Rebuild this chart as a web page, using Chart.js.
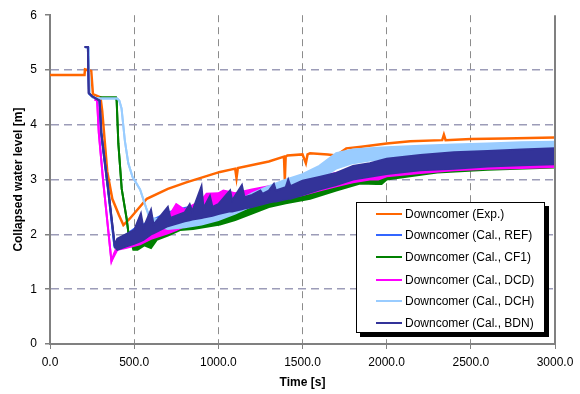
<!DOCTYPE html>
<html lang="en">
<head>
  <meta charset="UTF-8" />
  <title>Downcomer collapsed water level</title>
  <script src="https://cdn.jsdelivr.net/npm/chart.js"></script>
  <style>
    html, body { margin:0; padding:0; background:#fff; }
    body { font-family: Arial, 'Liberation Sans', sans-serif; }
    .wrap { position: relative; width: 580px; height: 394px; }
    #levelChart { display:block; }
    .legend-box {
      position: absolute;
      left: 356px; top: 202px;
      width: 187px; height: 129px;
      background: #fff;
      border: 1px solid #000;
      box-shadow: 4px 4px 0 #000;
      font-size: 12px;
      color: #000;
    }
    .legend-item { position: absolute; left: 0; height: 16px; line-height: 16px; white-space: nowrap; }
    .legend-item .swatch { position: absolute; left: 19px; top: 7px; width: 26px; height: 2px; }
    .legend-item .label { position: absolute; left: 48px; top: 0; }
  </style>
</head>
<body>
  <div class="wrap">
    <canvas id="levelChart" width="580" height="394"></canvas>
    <div id="legend" class="legend-box"></div>
  </div>

  <script>
    // series names (legend order)
    const seriesNames = [
      'Downcomer (Exp.)',
      'Downcomer (Cal., REF)',
      'Downcomer (Cal., CF1)',
      'Downcomer (Cal., DCD)',
      'Downcomer (Cal., DCH)',
      'Downcomer (Cal., BDN)'
    ];
    const seriesColors = ['#ff6600', '#3366ff', '#008000', '#ff00ff', '#99ccff', '#333399'];

    const xTicks = [0, 500, 1000, 1500, 2000, 2500, 3000];
    const yTicks = [0, 1, 2, 3, 4, 5, 6];

    // experiment (single noisy trace)
    const expT = [0, 205, 208, 245, 255, 300, 310, 340, 370, 410, 436, 475, 575, 700, 810, 1010, 1100, 1108, 1116, 1300, 1390, 1395, 1400, 1410, 1500, 1520, 1530, 1545, 1650, 1700, 1760, 1850, 2000, 2140, 2330, 2340, 2350, 2500, 2700, 3000];
    const expV = [4.91, 4.91, 5.01, 4.98, 4.56, 4.50, 4.26, 3.15, 2.65, 2.35, 2.17, 2.29, 2.65, 2.83, 2.95, 3.14, 3.20, 3.03, 3.21, 3.33, 3.42, 3.00, 3.42, 3.44, 3.46, 3.30, 3.46, 3.48, 3.46, 3.44, 3.57, 3.60, 3.66, 3.70, 3.72, 3.82, 3.72, 3.74, 3.75, 3.77];

    // calculations: lower / upper edge of the noisy trace
    const refT  = [210, 227, 232, 252, 293, 303, 343, 382, 400, 500, 600, 700, 800, 900, 1000, 1100, 1200, 1300, 1400, 1500, 1600, 1700, 1800, 1900, 2000, 2200, 2400, 2600, 2800, 3000];
    const refLo = [5.42, 5.41, 4.57, 4.51, 4.44, 3.86, 2.86, 1.80, 1.74, 1.84, 1.93, 2.03, 2.12, 2.18, 2.26, 2.33, 2.42, 2.52, 2.60, 2.70, 2.80, 2.88, 2.97, 3.02, 3.07, 3.14, 3.18, 3.22, 3.24, 3.26];
    const refHi = [5.42, 5.41, 4.57, 4.51, 4.44, 3.86, 2.86, 1.80, 1.88, 2.10, 2.25, 2.40, 2.48, 2.55, 2.60, 2.68, 2.75, 2.82, 2.88, 2.96, 3.04, 3.10, 3.22, 3.28, 3.34, 3.42, 3.47, 3.50, 3.53, 3.55];

    const cf1T  = [295, 392, 396, 406, 426, 455, 465, 495, 520, 560, 600, 634, 700, 772, 850, 1010, 1100, 1200, 1300, 1400, 1545, 1700, 1842, 1940, 1970, 2000, 2139, 2300, 2600, 3000];
    const cf1Lo = [4.50, 4.50, 4.44, 3.66, 2.83, 2.29, 2.05, 1.72, 1.72, 1.80, 1.75, 1.90, 1.98, 2.08, 2.10, 2.18, 2.26, 2.38, 2.50, 2.57, 2.65, 2.80, 2.93, 2.92, 2.92, 3.00, 3.06, 3.13, 3.18, 3.22];
    const cf1Hi = [4.50, 4.50, 4.44, 3.66, 2.83, 2.29, 2.05, 1.76, 1.85, 1.90, 1.96, 2.00, 2.08, 2.18, 2.20, 2.28, 2.36, 2.48, 2.60, 2.67, 2.76, 2.90, 3.03, 3.08, 3.10, 3.12, 3.18, 3.24, 3.30, 3.34];

    const dcdT  = [265, 280, 290, 315, 365, 380, 400, 450, 535, 600, 700, 750, 800, 900, 930, 1000, 1030, 1100, 1200, 1300, 1400, 1500, 1600, 1700, 1800, 1900, 1950, 2000, 2200, 2400, 2600, 2800, 3000];
    const dcdLo = [4.46, 4.44, 3.85, 3.00, 1.51, 1.60, 1.72, 1.75, 1.82, 1.92, 2.02, 2.08, 2.15, 2.25, 2.28, 2.35, 2.38, 2.45, 2.52, 2.60, 2.66, 2.72, 2.80, 2.88, 2.95, 3.00, 3.00, 3.06, 3.12, 3.17, 3.20, 3.21, 3.23];
    const dcdHi = [4.46, 4.44, 3.85, 3.00, 1.51, 1.65, 1.78, 1.85, 1.95, 2.12, 2.30, 2.55, 2.45, 2.62, 2.74, 2.75, 2.80, 2.75, 2.82, 2.88, 2.92, 2.97, 3.05, 3.12, 3.18, 3.22, 3.26, 3.30, 3.35, 3.40, 3.42, 3.44, 3.45];

    const dchT  = [210, 228, 236, 255, 300, 400, 412, 425, 445, 465, 490, 535, 575, 600, 700, 800, 900, 1000, 1100, 1200, 1300, 1400, 1500, 1600, 1700, 1800, 1900, 2000, 2200, 2400, 2600, 2800, 3000];
    const dchLo = [5.41, 5.40, 4.56, 4.50, 4.48, 4.48, 4.44, 4.30, 3.70, 3.30, 3.05, 2.82, 2.45, 2.18, 2.10, 2.13, 2.18, 2.26, 2.38, 2.52, 2.65, 2.75, 2.88, 3.00, 3.20, 3.30, 3.35, 3.38, 3.42, 3.45, 3.47, 3.48, 3.50];
    const dchHi = [5.41, 5.40, 4.56, 4.50, 4.48, 4.48, 4.44, 4.30, 3.70, 3.30, 3.05, 2.82, 2.45, 2.30, 2.26, 2.30, 2.36, 2.46, 2.58, 2.75, 2.88, 3.00, 3.10, 3.25, 3.48, 3.55, 3.57, 3.59, 3.62, 3.64, 3.66, 3.68, 3.69];

    const bdnT  = [205, 225, 230, 250, 295, 305, 345, 385, 400, 450, 500, 540, 555, 600, 615, 700, 715, 800, 830, 845, 900, 912, 950, 965, 1000, 1070, 1082, 1140, 1155, 1200, 1250, 1262, 1300, 1330, 1342, 1400, 1415, 1428, 1500, 1600, 1700, 1800, 1900, 2000, 2200, 2400, 2600, 2800, 3000];
    const bdnLo = [5.42, 5.42, 4.58, 4.52, 4.44, 3.85, 2.85, 1.78, 1.72, 1.78, 1.83, 1.88, 1.90, 2.00, 2.02, 2.15, 2.16, 2.24, 2.26, 2.27, 2.30, 2.31, 2.33, 2.34, 2.37, 2.42, 2.42, 2.46, 2.47, 2.50, 2.54, 2.55, 2.58, 2.60, 2.60, 2.64, 2.65, 2.65, 2.72, 2.82, 2.90, 3.00, 3.05, 3.10, 3.17, 3.20, 3.24, 3.26, 3.28];
    const bdnHi = [5.42, 5.42, 4.58, 4.52, 4.44, 3.85, 2.85, 1.80, 1.92, 2.00, 2.08, 2.38, 2.12, 2.45, 2.18, 2.50, 2.30, 2.40, 2.55, 2.42, 2.88, 2.48, 2.70, 2.50, 2.55, 2.80, 2.62, 2.90, 2.68, 2.72, 2.80, 2.74, 2.80, 2.92, 2.80, 2.86, 3.00, 2.88, 2.98, 3.05, 3.12, 3.25, 3.30, 3.38, 3.45, 3.50, 3.52, 3.55, 3.57];

    function pts(T, V) {
      return T.map((t, i) => ({ x: t, y: V[i] }));
    }

    // two lines with the gap filled = the noisy band
    function band(label, color, T, lo, hi) {
      return [
        { label: label, data: pts(T, hi), borderColor: color, backgroundColor: color,
          borderWidth: 2, fill: '+1' },
        { label: label + ' lo', data: pts(T, lo), borderColor: color, backgroundColor: color,
          borderWidth: 2, fill: false }
      ];
    }

    // index 0 is drawn on top, so list from top-most (BDN) down to Exp
    const datasets = [].concat(
      band(seriesNames[5], seriesColors[5], bdnT, bdnLo, bdnHi),
      band(seriesNames[4], seriesColors[4], dchT, dchLo, dchHi),
      band(seriesNames[3], seriesColors[3], dcdT, dcdLo, dcdHi),
      band(seriesNames[2], seriesColors[2], cf1T, cf1Lo, cf1Hi),
      band(seriesNames[1], seriesColors[1], refT, refLo, refHi),
      [{ label: seriesNames[0], data: pts(expT, expV), borderColor: seriesColors[0],
         borderWidth: 2.5, fill: false }]
    );

    const font = "Arial, 'Liberation Sans', sans-serif";

    const plotFrame = {
      id: 'plotFrame',
      afterDatasetsDraw(chart) {
        const { ctx, chartArea } = chart;
        ctx.save();
        ctx.strokeStyle = '#808080';
        ctx.lineWidth = 2;
        ctx.beginPath();
        ctx.moveTo(chartArea.right, chartArea.top);
        ctx.lineTo(chartArea.right, chartArea.bottom);
        ctx.stroke();
        ctx.restore();
      }
    };

    new Chart(document.getElementById('levelChart'), {
      type: 'line',
      data: { datasets },
      options: {
        responsive: false,
        animation: false,
        devicePixelRatio: 1,
        layout: { padding: { left: 0, right: 25, top: 10, bottom: 0 } },
        elements: { point: { radius: 0 }, line: { tension: 0 } },
        plugins: { legend: { display: false }, tooltip: { enabled: false } },
        scales: {
          x: {
            type: 'linear',
            min: 0, max: 3000,
            afterBuildTicks: (s) => { s.ticks = xTicks.map(v => ({ value: v })); },
            afterFit: (s) => { s.height = 50; },
            ticks: {
              color: '#000', font: { family: font, size: 12 }, padding: 6, maxRotation: 0,
              callback: (v) => Number(v).toFixed(1)
            },
            grid: {
              color: (c) => (c.tick && (c.tick.value === 0 || c.tick.value === 3000)) ? 'rgba(0,0,0,0)' : '#8c8c8c',
              lineWidth: 1, tickLength: 5, tickColor: '#808080'
            },
            border: { color: '#808080', width: 2, dash: [7, 5] },
            title: { display: true, text: 'Time [s]', color: '#000',
              font: { family: font, size: 12, weight: 'bold' }, padding: { top: 0, bottom: 4 } }
          },
          y: {
            min: 0, max: 6,
            afterBuildTicks: (s) => { s.ticks = yTicks.map(v => ({ value: v })); },
            afterFit: (s) => { s.width = 50; },
            ticks: { color: '#000', font: { family: font, size: 12 }, padding: 8 },
            grid: {
              color: (c) => (c.tick && (c.tick.value === 0 || c.tick.value === 6)) ? 'rgba(0,0,0,0)' : '#9c9cb8',
              lineWidth: 1.5, tickLength: 5, tickColor: '#808080'
            },
            border: { color: '#808080', width: 2, dash: [8, 5] },
            title: { display: true, text: 'Collapsed water level [m]', color: '#000',
              font: { family: font, size: 12, weight: 'bold' }, padding: { top: 11, bottom: 0 } }
          }
        }
      },
      plugins: [plotFrame]
    });

    // legend drawn as plain html, same look as the spreadsheet legend
    const legendEl = document.getElementById('legend');
    const rowTops = [3, 24, 46, 69, 90, 112];
    seriesNames.forEach((name, i) => {
      const item = document.createElement('div');
      item.className = 'legend-item';
      item.style.top = rowTops[i] + 'px';
      item.innerHTML = `<span class="swatch" style="background:${seriesColors[i]}"></span><span class="label">${name}</span>`;
      legendEl.appendChild(item);
    });
  </script>
</body>
</html>
